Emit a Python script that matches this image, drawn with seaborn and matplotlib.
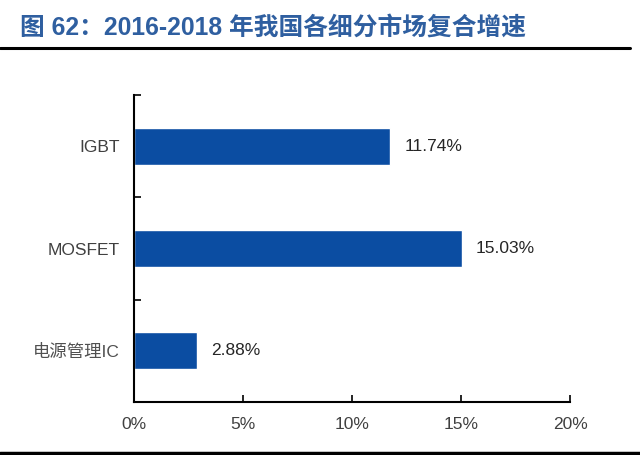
import matplotlib
matplotlib.use("Agg")
import matplotlib.pyplot as plt
import seaborn as sns
import pandas as pd
from matplotlib.ticker import FuncFormatter, FixedLocator

categories = ["IGBT", "MOSFET", "电源管理IC"]
values = [11.74, 15.03, 2.88]
value_labels = ["11.74%", "15.03%", "2.88%"]
x_ticks = [0, 5, 10, 15, 20]

sns.set_theme(style="white")
plt.rcParams['font.family'] = ['Liberation Sans', 'Noto Sans CJK SC', 'DejaVu Sans']

df = pd.DataFrame({"cat": categories, "val": values})

fig = plt.figure(figsize=(6.4, 4.55), dpi=100)
ax = fig.add_axes([0.209, 0.1165, 0.682, 0.6745])

sns.barplot(data=df, x="val", y="cat", orient="h", color="#0B4DA2",
            saturation=1, width=0.36, ax=ax)

ax.set_xlim(0, 20)
ax.set_ylim(2.5, -0.5)
ax.set_xlabel("")
ax.set_ylabel("")

ax.xaxis.set_major_locator(FixedLocator(x_ticks))
ax.xaxis.set_major_formatter(FuncFormatter(lambda v, p: f"{v:.0f}%"))
ax.tick_params(axis="x", direction="in", length=5, width=1.2, color="black",
               labelsize=12.5, labelcolor="#404040", pad=10.5, bottom=True)
ax.set_yticks([0, 1, 2])
ax.set_yticklabels(categories)
ax.tick_params(axis="y", length=0, labelsize=12.5, labelcolor="#404040", pad=10)
for lab in ax.get_yticklabels():
    if lab.get_text() == "电源管理IC":
        lab.set_fontweight("light")
        lab.set_color("#505050")
# minor ticks at category boundaries
ax.set_yticks([-0.5, 0.5, 1.5, 2.5], minor=True)
ax.tick_params(axis="y", which="minor", direction="in", length=5, width=1.2,
               color="black", left=True)

for s in ["top", "right"]:
    ax.spines[s].set_visible(False)
for s in ["left", "bottom"]:
    ax.spines[s].set_color("black")
    ax.spines[s].set_linewidth(1.5)

for i, (v, lab) in enumerate(zip(values, value_labels)):
    ax.text(v + 0.65, i, lab, va="center", ha="left", fontsize=12.5, color="#262626")

fig.text(0.031, 0.94, "图 62：2016-2018 年我国各细分市场复合增速", fontsize=17.8,
         fontweight="bold", color="#2F5FA0", va="center", ha="left",
         family=['Liberation Sans', 'Noto Sans CJK SC'])

fig.add_artist(plt.Line2D([0.0, 0.985], [0.894, 0.894], color="black", lw=2.2,
                          transform=fig.transFigure))
fig.add_artist(plt.Line2D([0.0, 1.0], [0.005, 0.005], color="black", lw=2.5,
                          transform=fig.transFigure))

fig.savefig("out.png", dpi=100)
